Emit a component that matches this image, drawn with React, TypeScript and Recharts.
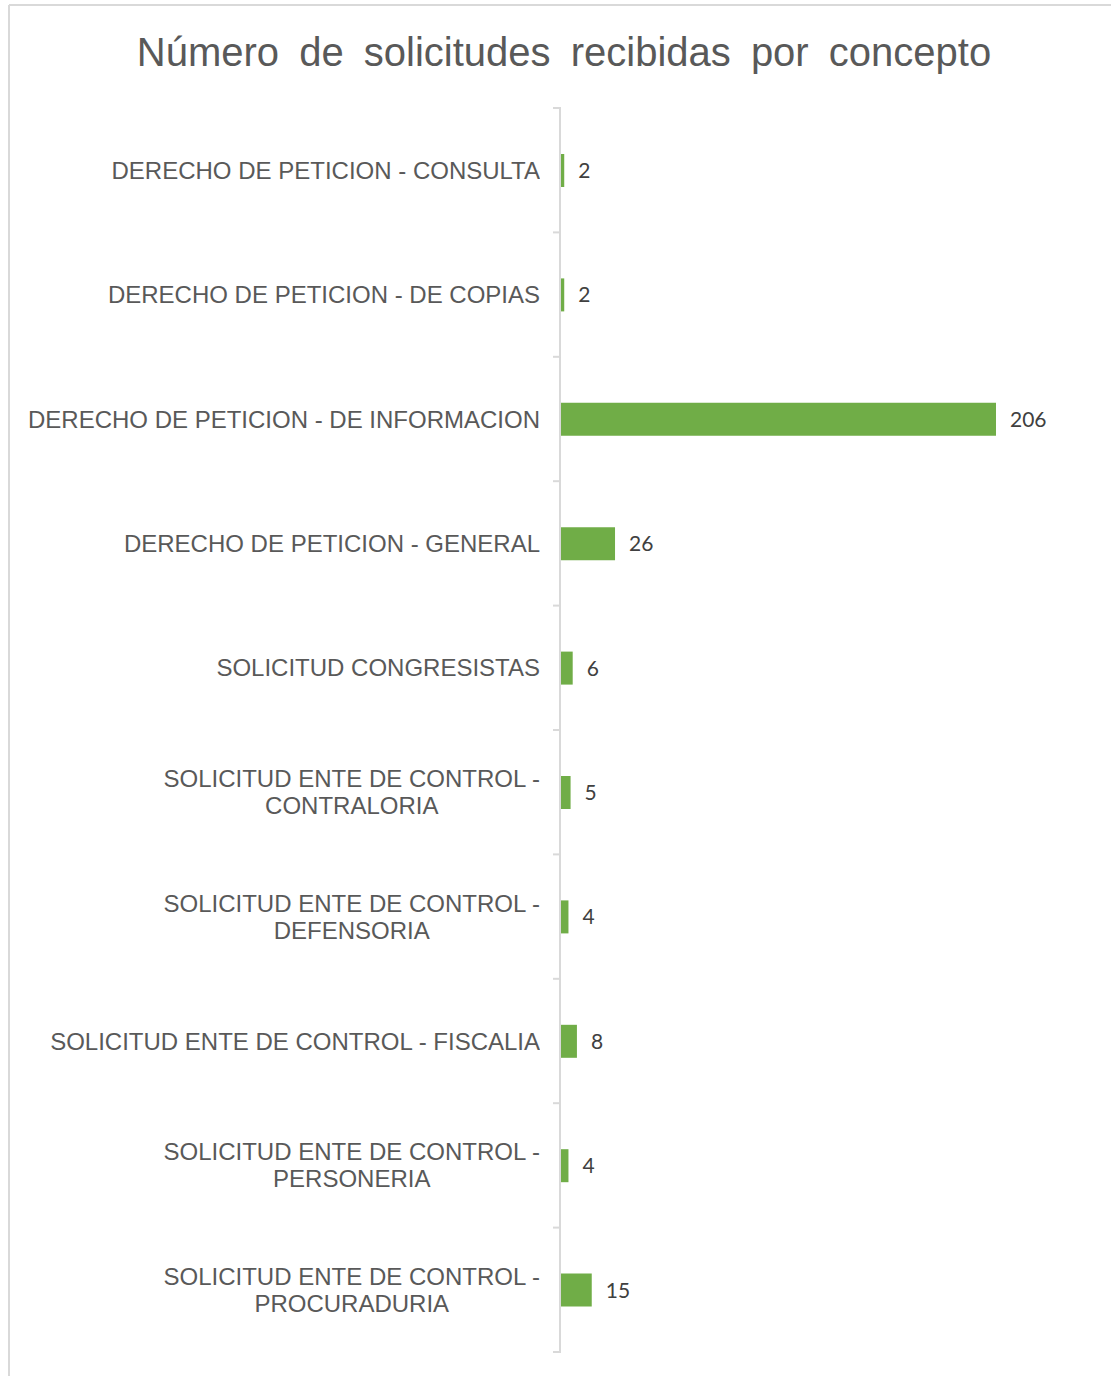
import React from 'react';
import { BarChart, Bar, XAxis, YAxis, LabelList } from 'recharts';

const TITLE = 'Número de solicitudes recibidas por concepto';

const categories: string[] = [
  'DERECHO DE PETICION - CONSULTA',
  'DERECHO DE PETICION - DE COPIAS',
  'DERECHO DE PETICION - DE INFORMACION',
  'DERECHO DE PETICION - GENERAL',
  'SOLICITUD CONGRESISTAS',
  'SOLICITUD ENTE DE CONTROL -\nCONTRALORIA',
  'SOLICITUD ENTE DE CONTROL -\nDEFENSORIA',
  'SOLICITUD ENTE DE CONTROL - FISCALIA',
  'SOLICITUD ENTE DE CONTROL -\nPERSONERIA',
  'SOLICITUD ENTE DE CONTROL -\nPROCURADURIA',
];

const values: number[] = [2, 2, 206, 26, 6, 5, 4, 8, 4, 15];

const data = categories.map((c, i) => ({ name: c, value: values[i] }));

const TICK_MARGIN = 21;
const TICK_LEN = 8;
const AXIS_COLOR = '#d9d9d9';

const CategoryTick = (props: any) => {
  const { x, y, payload, index, visibleTicksCount } = props;
  const w = 540;
  const h = 90;
  const half = payload && payload.offset ? payload.offset : 0;
  const ax = x + TICK_MARGIN;
  const isLast = visibleTicksCount ? index === visibleTicksCount - 1 : index === categories.length - 1;
  return (
    <g>
      <line x1={ax - TICK_LEN} x2={ax} y1={y - half} y2={y - half} stroke={AXIS_COLOR} strokeWidth={2} />
      {isLast && (
        <line x1={ax - TICK_LEN} x2={ax} y1={y + half} y2={y + half} stroke={AXIS_COLOR} strokeWidth={2} />
      )}
      <foreignObject x={x - w} y={y - h / 2} width={w} height={h}>
        <div
          style={{
            width: w,
            height: h,
            display: 'flex',
            alignItems: 'center',
            justifyContent: 'flex-end',
          }}
        >
          <div
            style={{
              textAlign: 'center',
              whiteSpace: 'pre-line',
              fontFamily: '"Liberation Sans", Arial, sans-serif',
              fontSize: 24,
              lineHeight: '27px',
              color: '#595959',
            }}
          >
            {payload.value}
          </div>
        </div>
      </foreignObject>
    </g>
  );
};

export default function App() {
  return (
    <div style={{ position: 'absolute', left: 0, top: 0, width: 1111, height: 1376, background: '#fff' }}>
      <svg
        width={1111}
        height={1376}
        style={{ position: 'absolute', left: 0, top: 0, pointerEvents: 'none' }}
      >
        <line x1={9} y1={5} x2={1111} y2={5} stroke="#d9d9d9" strokeWidth={2} />
        <line x1={9} y1={5} x2={9} y2={1376} stroke="#d9d9d9" strokeWidth={2} />
        <text
          x={564}
          y={66}
          textAnchor="middle"
          fontFamily='"Liberation Sans", Arial, sans-serif'
          fontSize={40}
          fill="#595959"
          style={{ wordSpacing: 9 }}
        >
          {TITLE}
        </text>
      </svg>
      <div style={{ position: 'absolute', left: 0, top: 0 }}>
        <BarChart
          width={1111}
          height={1376}
          data={data}
          layout="vertical"
          margin={{ top: 108, right: 115, bottom: 24, left: 0 }}
        >
          <XAxis type="number" domain={[0, 206]} hide />
          <YAxis
            type="category"
            dataKey="name"
            width={560}
            axisLine={{ stroke: AXIS_COLOR, strokeWidth: 2 }}
            tickLine={false}
            tickSize={0}
            tickMargin={TICK_MARGIN - 1}
            tick={CategoryTick}
            interval={0}
          />
          <Bar dataKey="value" fill="#70ad47" barSize={33} isAnimationActive={false}>
            <LabelList
              dataKey="value"
              position="right"
              offset={14}
              fill="#404040"
              fontFamily="Lato, 'Open Sans', sans-serif"
              fontSize={21}
            />
          </Bar>
        </BarChart>
      </div>
    </div>
  );
}
